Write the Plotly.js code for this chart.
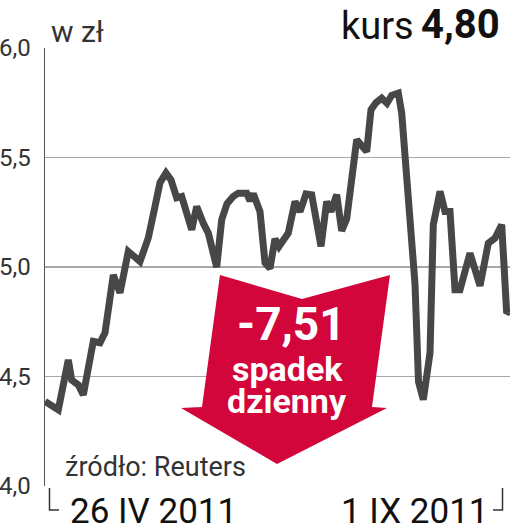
<!DOCTYPE html>
<html>
<head>
<meta charset="utf-8">
<script src="https://cdn.plot.ly/plotly-3.0.1.min.js"></script>
<style>html,body{margin:0;padding:0;background:#fff;}#chart{width:510px;height:532px;}</style>
</head>
<body>
<div id="chart"></div>
<script>
// session index (trading-day position along the axis)
const dayIndex = [0,13.3,23.3,26.7,33.3,38.3,48.3,55,60,68.3,75,83.3,95,103.3,110,115,121,126,131.7,136.7,146.7,151.7,158.3,163.3,171.7,176.7,182,188,193.3,201.7,205,208.3,215,220,225,230,234,243.3,250,255,261,266.7,276,281.7,286,291.7,296.7,301.7,311.7,321.7,326,331,336.7,342,346.7,353.3,356.7,361.7,365,370,373.5,378.3,385,388.3,395,400,405,410,415,425,435,443.3,450,456.7,461.7,465];
// price in zł
const price = [4.386,4.348,4.576,4.484,4.462,4.416,4.660,4.654,4.700,4.964,4.882,5.071,5.025,5.133,5.276,5.385,5.429,5.398,5.316,5.322,5.170,5.276,5.200,5.155,4.999,5.216,5.289,5.321,5.337,5.337,5.302,5.334,5.253,5.019,4.994,5.129,5.094,5.155,5.299,5.253,5.334,5.330,5.094,5.299,5.253,5.330,5.165,5.220,5.581,5.527,5.718,5.750,5.771,5.748,5.784,5.794,5.703,5.398,5.133,4.923,4.476,4.394,4.607,5.193,5.345,5.253,5.253,4.896,4.896,5.063,4.914,5.109,5.132,5.193,4.790,4.800];
const yTicks = [4.0,4.5,5.0,5.5,6.0];
const xLabels = ['26 IV 2011','1 IX 2011'];
const unitLabel = 'w zł';
const kursLabel = 'kurs';
const kursValue = '4,80';
const changeValue = '-7,51';
const changeText = ['spadek','dzienny'];
const sourceText = 'źródło: Reuters';

// plot area in pixels
const L = 45, R = 510, T = 48, B = 486;
const px = x => (x - L) / (R - L);
const py = y => (B - y) / (B - T);

const arrowPts = [[220,275],[302,299],[390,275],[372,407],[387,408],[277,464],[181,408],[202,407]];
const arrowPath = 'M ' + arrowPts.map(p => px(p[0]).toFixed(4) + ' ' + py(p[1]).toFixed(4)).join(' L ') + ' Z';

const FONT = 'Roboto, "Open Sans", sans-serif';

const trace = {
  x: dayIndex, y: price, type: 'scatter', mode: 'lines',
  line: {color: '#474747', width: 7, shape: 'linear'},
  hoverinfo: 'none', cliponaxis: false
};

const layout = {
  width: 510, height: 532,
  margin: {l: L, r: 510 - R, t: T, b: 532 - B},
  paper_bgcolor: '#fff', plot_bgcolor: '#fff',
  separators: ',.',
  showlegend: false,
  font: {family: FONT, color: '#222'},
  xaxis: {range: [0, 465], visible: false, fixedrange: true},
  yaxis: {
    range: [4, 6], tickvals: yTicks, tickformat: '.1f',
    showgrid: true, gridcolor: '#a8a8a8', gridwidth: 1.5,
    zeroline: false, showline: true, linecolor: '#555', linewidth: 1.5,
    ticks: '', ticklabelstandoff: 8,
    tickfont: {family: FONT, size: 24, color: '#333'}
  },
  shapes: [
    {type: 'path', xref: 'paper', yref: 'paper', path: arrowPath, fillcolor: '#d2063a', line: {width: 0}, layer: 'above'},
    {type: 'path', xref: 'paper', yref: 'paper', path: `M ${px(49.5)} ${py(488)} L ${px(49.5)} ${py(510)} L ${px(59)} ${py(510)}`, line: {color: '#333', width: 1.5}},
    {type: 'path', xref: 'paper', yref: 'paper', path: `M ${px(502.5)} ${py(488)} L ${px(502.5)} ${py(510)} L ${px(493)} ${py(510)}`, line: {color: '#333', width: 1.5}}
  ],
  annotations: [
    {xref: 'paper', yref: 'paper', x: px(49), y: py(51), xanchor: 'left', yanchor: 'bottom', text: unitLabel, showarrow: false, font: {family: FONT, size: 30, color: '#333'}},
    {xref: 'paper', yref: 'paper', x: px(416), y: py(50), xanchor: 'right', yanchor: 'bottom', text: kursLabel, showarrow: false, font: {family: FONT, size: 38, color: '#111'}},
    {xref: 'paper', yref: 'paper', x: px(502), y: py(50), xanchor: 'right', yanchor: 'bottom', text: '<b>' + kursValue + '</b>', showarrow: false, font: {family: FONT, size: 40, color: '#111'}},
    {xref: 'paper', yref: 'paper', x: px(291), y: py(324), xanchor: 'center', yanchor: 'middle', text: '<b>' + changeValue + '</b>', showarrow: false, font: {family: FONT, size: 46, color: '#fff'}},
    {xref: 'paper', yref: 'paper', x: px(287), y: py(369), xanchor: 'center', yanchor: 'middle', text: '<b>' + changeText[0] + '</b>', showarrow: false, font: {family: FONT, size: 34, color: '#fff'}},
    {xref: 'paper', yref: 'paper', x: px(287), y: py(401), xanchor: 'center', yanchor: 'middle', text: '<b>' + changeText[1] + '</b>', showarrow: false, font: {family: FONT, size: 34, color: '#fff'}},
    {xref: 'paper', yref: 'paper', x: px(63), y: py(467), xanchor: 'left', yanchor: 'middle', text: sourceText, showarrow: false, font: {family: FONT, size: 27, color: '#333'}},
    {xref: 'paper', yref: 'paper', x: px(68), y: py(511), xanchor: 'left', yanchor: 'middle', text: xLabels[0], showarrow: false, font: {family: FONT, size: 35, color: '#111'}},
    {xref: 'paper', yref: 'paper', x: px(490), y: py(511), xanchor: 'right', yanchor: 'middle', text: xLabels[1], showarrow: false, font: {family: FONT, size: 35, color: '#111'}}
  ]
};

Plotly.newPlot('chart', [trace], layout, {staticPlot: true, displayModeBar: false});
</script>
</body>
</html>
